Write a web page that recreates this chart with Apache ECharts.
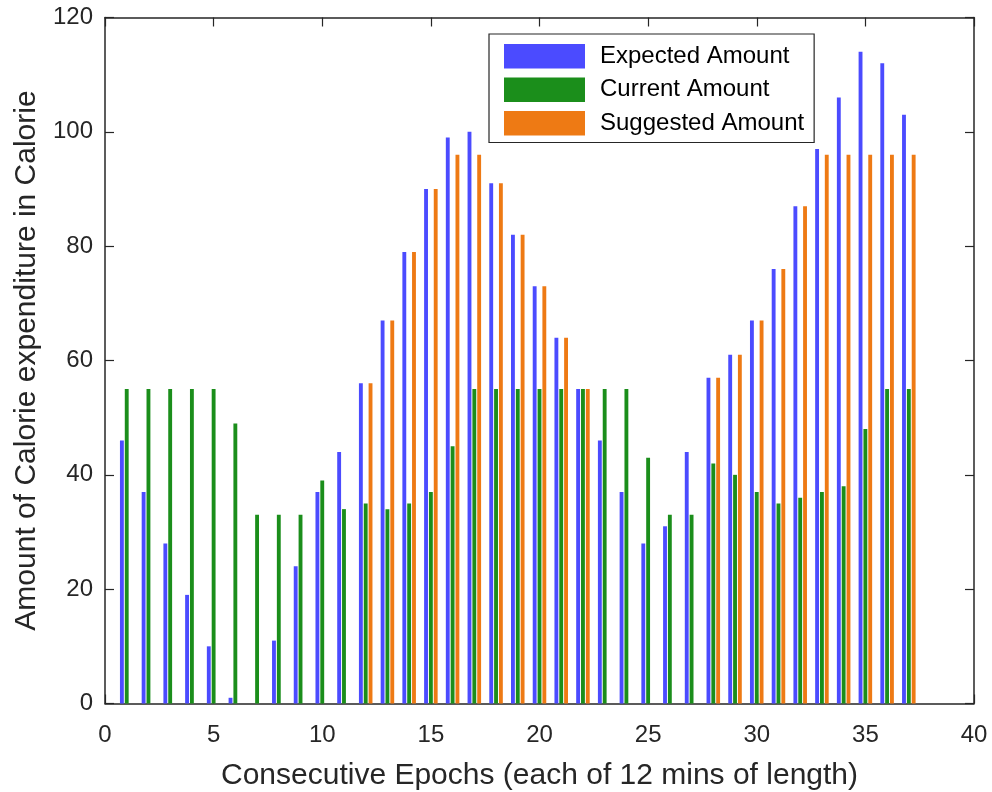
<!DOCTYPE html>
<html>
<head>
<meta charset="utf-8">
<script src="https://cdn.jsdelivr.net/npm/echarts@6/dist/echarts.min.js"></script>
<style>html,body{margin:0;padding:0;background:#fff;}#chart{width:992px;height:792px;}</style>
</head>
<body>
<div id="chart"></div>
<script>
var epochs = [1,2,3,4,5,6,7,8,9,10,11,12,13,14,15,16,17,18,19,20,21,22,23,24,25,26,27,28,29,30,31,32,33,34,35,36,37];
var expectedAmount = [46,37,28,19,10,1,0,11,24,37,44,56,67,79,90,99,100,91,82,73,64,55,46,37,28,31,44,57,61,67,76,87,97,106,114,112,103];
var currentAmount = [55,55,55,55,55,49,33,33,33,39,34,35,34,35,37,45,55,55,55,55,55,55,55,55,43,33,33,42,40,37,35,36,37,38,48,55,55];
var suggestedAmount = [0,0,0,0,0,0,0,0,0,0,0,56,67,79,90,96,96,91,82,73,64,55,0,0,0,0,0,57,61,67,76,87,96,96,96,96,96];
var xTicks = [0,5,10,15,20,25,30,35,40];
var yTicks = [0,20,40,60,80,100,120];
var seriesNames = ['Expected Amount','Current Amount','Suggested Amount'];

function pairs(vals){ return epochs.map(function(e,i){ return [e, vals[i]]; }); }

var txt = '#262626';
var fontFam = '"Liberation Sans", Arial, Helvetica, sans-serif';
var chart = echarts.init(document.getElementById('chart'), null, {renderer:'canvas'});
var axisLine = {show:true, onZero:false, lineStyle:{color:txt, width:1.5}};
var tick = {show:true, inside:true, length:9, lineStyle:{color:txt, width:1.2}};
var option = {
  backgroundColor:'#fff',
  animation:false,
  grid:{left:105, right:18, top:17.5, bottom:88.5, containLabel:false, outerBoundsMode:'none'},
  legend:{
    orient:'vertical', left:489, top:34,
    data:seriesNames,
    itemWidth:81, itemHeight:24.5, itemGap:9,
    padding:[10,10,7,15],
    borderColor:txt, borderWidth:1.2, backgroundColor:'#fff',
    icon:'rect',
    textStyle:{fontFamily:fontFam, fontSize:24, color:'#000', padding:[3,0,0,10]}
  },
  xAxis:[{
    type:'value', min:xTicks[0], max:xTicks[xTicks.length-1], interval:5,
    name:'Consecutive Epochs (each of 12 mins of length)',
    nameLocation:'middle', nameGap:57,
    nameTextStyle:{fontFamily:fontFam, fontSize:30, color:txt},
    axisLine:axisLine, axisTick:tick,
    axisLabel:{fontFamily:fontFam, fontSize:24, color:txt, margin:20},
    splitLine:{show:false}
  },{
    type:'value', position:'top', min:xTicks[0], max:xTicks[xTicks.length-1], interval:5,
    axisLine:axisLine, axisTick:tick,
    axisLabel:{show:false}, splitLine:{show:false}
  }],
  yAxis:[{
    type:'value', min:yTicks[0], max:yTicks[yTicks.length-1], interval:20,
    name:'Amount of Calorie expenditure in Calorie',
    nameLocation:'middle', nameGap:55,
    nameTextStyle:{fontFamily:fontFam, fontSize:30, color:txt},
    axisLine:axisLine, axisTick:tick,
    axisLabel:{fontFamily:fontFam, fontSize:24, color:txt, margin:12},
    splitLine:{show:false}
  },{
    type:'value', position:'right', min:yTicks[0], max:yTicks[yTicks.length-1], interval:20,
    axisLine:axisLine, axisTick:tick,
    axisLabel:{show:false}, splitLine:{show:false}
  }],
  series:[
    {name:seriesNames[0], type:'bar', xAxisIndex:0, yAxisIndex:0, data:pairs(expectedAmount), barWidth:'17.8%', barGap:'25%', itemStyle:{color:'#4B4BFF'}},
    {name:seriesNames[1], type:'bar', xAxisIndex:0, yAxisIndex:0, data:pairs(currentAmount), barWidth:'17.8%', barGap:'25%', itemStyle:{color:'#1B8E1B'}},
    {name:seriesNames[2], type:'bar', xAxisIndex:0, yAxisIndex:0, data:pairs(suggestedAmount), barWidth:'17.8%', barGap:'25%', itemStyle:{color:'#EE7A14'}}
  ]
};
chart.setOption(option);
</script>
</body>
</html>
